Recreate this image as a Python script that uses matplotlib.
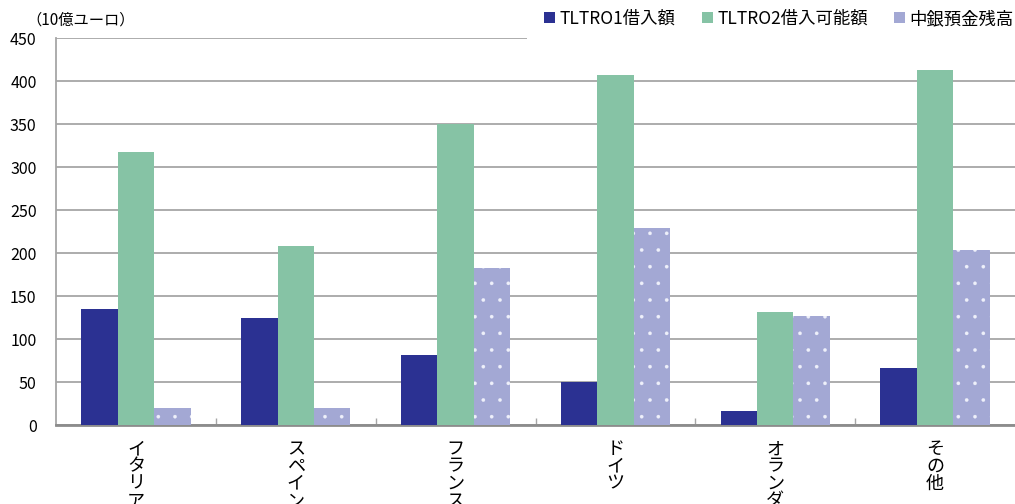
import matplotlib
matplotlib.use('Agg')
import matplotlib.pyplot as plt
import numpy as np

plt.rcParams['font.family'] = ['Noto Sans CJK JP', 'DejaVu Sans']
plt.rcParams['hatch.linewidth'] = 0.2

countries = ['イタリア', 'スペイン', 'フランス', 'ドイツ', 'オランダ', 'その他']
tltro1 = [135, 124, 81, 50, 16, 66]
tltro2 = [318, 208, 350, 407, 131, 413]
deposits = [20, 20, 183, 229, 127, 204]
series_names = ['TLTRO1借入額', 'TLTRO2借入可能額', '中銀預金残高']

fig = plt.figure(figsize=(10.15, 5.04), dpi=100)
ax = fig.add_axes([0.0552, 0.1567, 0.9448, 0.7679])

x = np.arange(len(countries))
w = 0.228
grid_c = '#a6a6a6'

ax.bar(x - w, tltro1, w, color='#2b3192', label=series_names[0], zorder=3)
ax.bar(x, tltro2, w, color='#86c3a5', label=series_names[1], zorder=3)
ax.bar(x + w, deposits, w, color='#a3a8d4', edgecolor='#eef0fa', linewidth=0,
       hatch='.', label=series_names[2], zorder=3)

ax.set_xlim(-0.5, len(countries) - 0.5)
ax.set_ylim(0, 450)
ax.set_yticks(range(0, 451, 50))
ax.yaxis.grid(True, color=grid_c, linewidth=1.3, zorder=0)
ax.tick_params(axis='y', length=0, labelsize=11.5, pad=14)

ax.set_xticks(x)
ax.set_xticklabels(['\n'.join(c) for c in countries], fontsize=13, linespacing=0.95)
ax.tick_params(axis='x', which='major', length=0, pad=11)
ax.set_xticks(np.arange(0.5, len(countries) - 1, 1.0), minor=True)
ax.tick_params(axis='x', which='minor', length=5, direction='in', color=grid_c, width=1)

for s in ['top', 'right']:
    ax.spines[s].set_visible(False)
ax.spines['left'].set_color(grid_c)
ax.spines['left'].set_linewidth(1.3)
ax.spines['bottom'].set_color('#8c8c8c')
ax.spines['bottom'].set_linewidth(2)

fig.text(0.026, 0.96, '（10億ユーロ）', fontsize=11, va='center', ha='left')

leg = fig.legend(loc='upper right', bbox_to_anchor=(1.016, 1.015), ncol=3, fontsize=12.5,
                 handlelength=0.65, handleheight=0.65, handletextpad=0.25,
                 columnspacing=1.5, borderpad=1.0, borderaxespad=0,
                 fancybox=False, framealpha=1, edgecolor='white')
leg.get_frame().set_linewidth(0)

fig.savefig('out.png', dpi=100, facecolor='white')
